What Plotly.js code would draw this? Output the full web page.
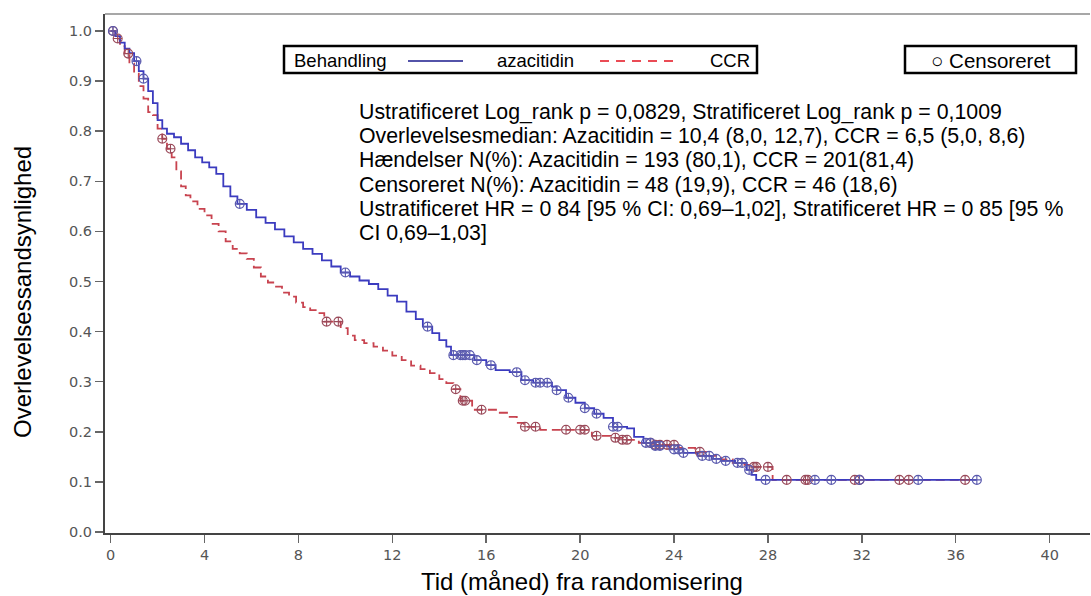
<!DOCTYPE html>
<html>
<head>
<meta charset="utf-8">
<script src="https://cdn.plot.ly/plotly-3.0.1.min.js"></script>
<style>html,body{margin:0;padding:0;background:#fff;}#chart{width:1091px;height:596px;}</style>
</head>
<body>
<div id="chart"></div>
<script>
// ---- Data ----
const xTicks = [0, 4, 8, 12, 16, 20, 24, 28, 32, 36, 40];
const yTicks = [0, 0.1, 0.2, 0.3, 0.4, 0.5, 0.6, 0.7, 0.8, 0.9, 1.0];
const yTickLabels = ['0.0','0.1','0.2','0.3','0.4','0.5','0.6','0.7','0.8','0.9','1.0'];

// azacitidin Kaplan-Meier steps
const azaTime = [0,0.2,0.4,0.6,0.8,1.0,1.2,1.4,1.6,1.8,2.0,2.2,2.4,2.7,3.0,3.3,3.6,3.9,4.2,4.5,4.8,5.1,5.4,5.8,6.2,6.6,7.0,7.4,7.8,8.2,8.6,9.0,9.4,9.8,10.2,10.6,11.0,11.4,11.8,12.2,12.6,13.0,13.3,13.7,14.0,14.3,14.5,15.5,16.0,16.4,17.0,17.5,18.0,18.8,19.0,19.4,19.8,20.2,20.6,21.0,21.4,22.0,22.3,22.7,23.2,23.8,24.4,25.0,25.6,26.0,26.6,27.1,27.3,27.5,36.9];
const azaSurv = [1.0,0.99,0.977,0.965,0.956,0.94,0.92,0.905,0.88,0.856,0.822,0.805,0.795,0.788,0.775,0.762,0.748,0.738,0.728,0.715,0.69,0.67,0.655,0.643,0.628,0.617,0.604,0.59,0.578,0.565,0.555,0.542,0.53,0.518,0.51,0.502,0.495,0.485,0.472,0.46,0.44,0.425,0.41,0.397,0.383,0.37,0.353,0.343,0.333,0.323,0.319,0.303,0.298,0.29,0.283,0.268,0.258,0.247,0.236,0.228,0.21,0.207,0.19,0.178,0.172,0.165,0.158,0.152,0.146,0.142,0.138,0.124,0.114,0.104,0.104];
const azaCensTime = [0.1,1.1,1.4,5.5,10.0,13.5,14.6,14.9,15.0,15.1,15.3,15.6,16.2,17.3,17.65,18.1,18.3,18.6,19.0,19.5,20.2,20.7,21.4,21.6,22.8,23.0,23.2,23.4,24.0,24.2,24.4,25.2,25.5,25.8,26.2,26.7,26.9,27.2,27.9,30.0,30.7,31.9,34.4,36.9];

// CCR Kaplan-Meier steps
const ccrTime = [0,0.2,0.4,0.6,0.8,1.0,1.2,1.4,1.6,1.8,2.0,2.2,2.4,2.6,2.8,3.0,3.2,3.4,3.7,4.0,4.3,4.6,4.9,5.2,5.5,5.8,6.1,6.4,6.7,7.0,7.3,7.6,7.9,8.2,8.5,8.8,9.1,9.8,10.1,10.4,10.8,11.2,11.6,12.0,12.4,12.8,13.2,13.6,14.0,14.3,14.6,14.9,15.4,16.5,17.0,17.3,17.6,18.3,20.5,21.3,21.8,22.5,23.2,24.2,24.9,25.5,26.0,26.5,27.0,27.4,28.2,36.4];
const ccrSurv = [1.0,0.985,0.97,0.955,0.935,0.915,0.89,0.865,0.838,0.832,0.805,0.785,0.765,0.748,0.72,0.69,0.672,0.66,0.645,0.632,0.615,0.6,0.58,0.565,0.556,0.545,0.528,0.51,0.498,0.49,0.478,0.47,0.458,0.449,0.443,0.437,0.42,0.407,0.392,0.383,0.377,0.37,0.362,0.352,0.343,0.332,0.325,0.317,0.305,0.297,0.285,0.262,0.244,0.238,0.23,0.218,0.21,0.204,0.192,0.188,0.184,0.178,0.174,0.168,0.16,0.152,0.145,0.138,0.134,0.13,0.104,0.104];
const ccrCensTime = [0.1,0.3,0.75,2.2,2.55,9.2,9.7,14.7,15.0,15.1,15.8,17.65,18.1,19.4,20.0,20.2,20.7,21.5,21.8,22.0,23.0,23.2,23.4,23.7,24.0,25.1,27.4,27.5,28.0,28.8,29.6,29.7,31.7,31.9,33.6,34.0,36.4];

const legendLabels = ['Behandling', 'azacitidin', 'CCR'];
const censorLabel = '○ Censoreret';
const statLines = [
  'Ustratificeret Log_rank p = 0,0829, Stratificeret Log_rank p = 0,1009',
  'Overlevelsesmedian: Azacitidin = 10,4 (8,0, 12,7), CCR = 6,5 (5,0, 8,6)',
  'Hændelser N(%): Azacitidin = 193 (80,1), CCR = 201(81,4)',
  'Censoreret N(%): Azacitidin = 48 (19,9), CCR = 46 (18,6)',
  'Ustratificeret HR = 0 84 [95 % CI: 0,69–1,02], Stratificeret HR = 0 85 [95 %',
  'CI 0,69–1,03]'
];
const xTitle = 'Tid (måned) fra randomisering';
const yTitle = 'Overlevelsessandsynlighed';

// ---- helpers ----
function stepLookup(times, surv, t) {
  let s = surv[0];
  for (let i = 0; i < times.length; i++) { if (times[i] <= t) s = surv[i]; else break; }
  return s;
}
const W = 1091, H = 596, ML = 105, MR = 1, MT = 14, MB = 63;
const PW = W - ML - MR, PH = H - MT - MB;
const px = x => (x - ML) / PW;
const py = y => (H - MB - y) / PH;

const azaCensSurv = azaCensTime.map(t => stepLookup(azaTime, azaSurv, t));
const ccrCensSurv = ccrCensTime.map(t => stepLookup(ccrTime, ccrSurv, t));

const blue = '#3b3bbf', red = '#c8434f';

const traces = [
  {x: ccrTime, y: ccrSurv, mode: 'lines', line: {shape: 'hv', color: red, width: 1.8, dash: '9px,5px'}, showlegend: false, hoverinfo: 'skip'},
  {x: azaTime, y: azaSurv, mode: 'lines', line: {shape: 'hv', color: blue, width: 1.8}, showlegend: false, hoverinfo: 'skip'},
  {x: ccrCensTime, y: ccrCensSurv, mode: 'markers', marker: {symbol: 'circle-cross-open', size: 9, color: '#9a4a5a', line: {width: 1.1}}, showlegend: false, hoverinfo: 'skip'},
  {x: azaCensTime, y: azaCensSurv, mode: 'markers', marker: {symbol: 'circle-cross-open', size: 9, color: '#5a5aae', line: {width: 1.1}}, showlegend: false, hoverinfo: 'skip'}
];

const FAM = 'Liberation Sans, Arial, sans-serif';
const legFont = {family: FAM, size: 18.5, color: '#000'};
const statFont = {family: FAM, size: 21.3, color: '#000'};
const annotations = [];
annotations.push({xref: 'paper', yref: 'paper', x: px(292), y: py(60), xanchor: 'left', yanchor: 'middle', text: legendLabels[0], showarrow: false, font: legFont});
annotations.push({xref: 'paper', yref: 'paper', x: px(495), y: py(60), xanchor: 'left', yanchor: 'middle', text: legendLabels[1], showarrow: false, font: legFont});
annotations.push({xref: 'paper', yref: 'paper', x: px(708), y: py(60), xanchor: 'left', yanchor: 'middle', text: legendLabels[2], showarrow: false, font: legFont});
annotations.push({xref: 'paper', yref: 'paper', x: px(991), y: py(60), xanchor: 'center', yanchor: 'middle', text: censorLabel, showarrow: false, font: {family: FAM, size: 20.5, color: '#000'}});
statLines.forEach((s, i) => {
  annotations.push({xref: 'paper', yref: 'paper', x: px(357), y: py(112 + i * 24.2), xanchor: 'left', yanchor: 'middle', text: s, showarrow: false, font: statFont});
});
annotations.push({xref: 'paper', yref: 'paper', x: px(582), y: py(581), xanchor: 'center', yanchor: 'middle', text: xTitle, showarrow: false, font: {family: FAM, size: 24, color: '#000'}});
annotations.push({xref: 'paper', yref: 'paper', x: px(22), y: py(292), xanchor: 'center', yanchor: 'middle', textangle: -90, text: yTitle, showarrow: false, font: {family: FAM, size: 24, color: '#000'}});

const shapes = [
  {type: 'line', xref: 'paper', yref: 'paper', x0: 0, x1: 1, y0: 1, y1: 1, line: {color: '#8a8a8a', width: 1.5}},
  {type: 'rect', xref: 'paper', yref: 'paper', x0: px(284), x1: px(757), y0: py(46), y1: py(73), line: {color: '#000', width: 2.5}, fillcolor: 'rgba(0,0,0,0)'},
  {type: 'rect', xref: 'paper', yref: 'paper', x0: px(905), x1: px(1076), y0: py(46), y1: py(73), line: {color: '#000', width: 2.5}, fillcolor: 'rgba(0,0,0,0)'},
  {type: 'line', xref: 'paper', yref: 'paper', x0: px(408), x1: px(463), y0: py(61), y1: py(61), line: {color: '#1a1a8c', width: 1.5}},
  {type: 'line', xref: 'paper', yref: 'paper', x0: px(600), x1: px(678), y0: py(61), y1: py(61), line: {color: '#e3101e', width: 1.5, dash: '9px,7px'}}
];

const tickFont = {family: 'DejaVu Sans, sans-serif', size: 14.5, color: '#555'};
const layout = {
  width: W, height: H,
  margin: {l: ML, r: MR, t: MT, b: MB, pad: 0},
  paper_bgcolor: '#fff', plot_bgcolor: '#fff',
  showlegend: false,
  xaxis: {range: [-0.24, 41.72], tickmode: 'array', tickvals: xTicks, ticktext: xTicks.map(String), ticks: 'outside', ticklen: 8, tickwidth: 1.5, tickcolor: '#666', showline: true, linecolor: '#444', linewidth: 2, showgrid: false, zeroline: false, tickfont: tickFont},
  yaxis: {range: [-0.002, 1.034], tickmode: 'array', tickvals: yTicks, ticktext: yTickLabels, ticks: 'outside', ticklen: 8, tickwidth: 1.5, tickcolor: '#666', showline: true, linecolor: '#444', linewidth: 2, showgrid: false, zeroline: false, tickfont: tickFont},
  annotations: annotations,
  shapes: shapes
};
Plotly.newPlot('chart', traces, layout, {displayModeBar: false, staticPlot: true});
</script>
</body>
</html>
